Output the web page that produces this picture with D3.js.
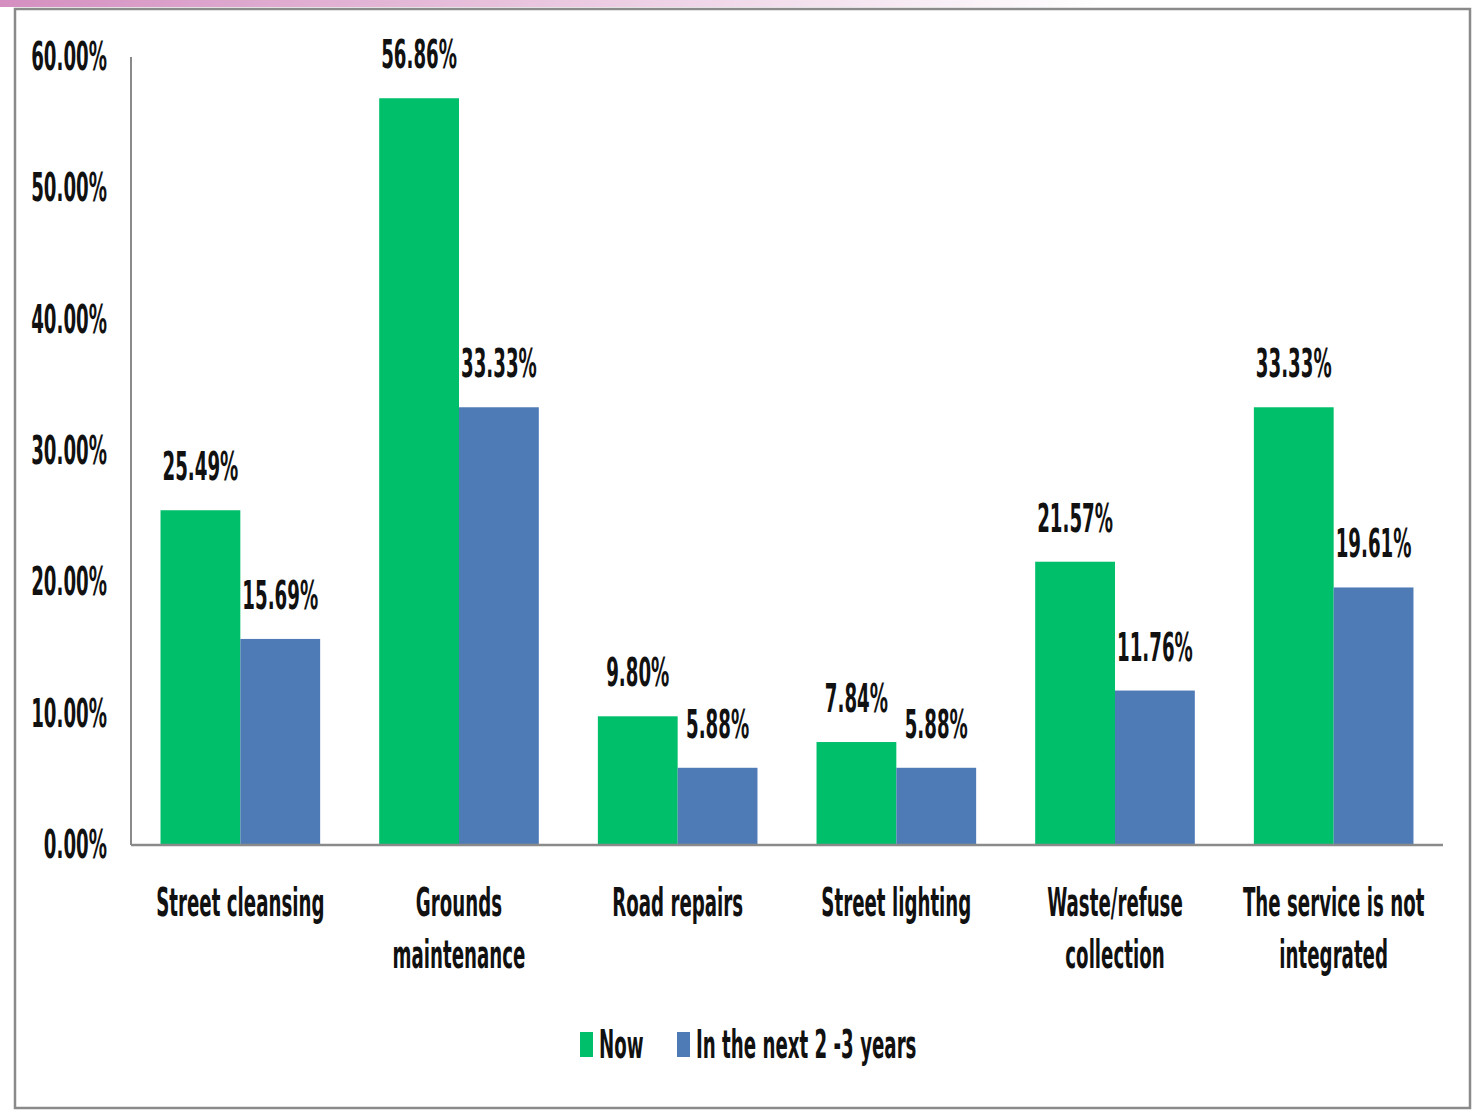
<!DOCTYPE html>
<html>
<head>
<meta charset="utf-8">
<script src="https://cdn.jsdelivr.net/npm/d3@7"></script>
<style>
  html, body { margin: 0; padding: 0; background: #fff; }
  svg { display: block; }
  text { font-family: "DejaVu Sans Condensed", "Liberation Sans Narrow", sans-serif; font-weight: bold; fill: #111; }
</style>
</head>
<body>
<svg id="chart" width="1473" height="1111"></svg>
<script>
// Survey results: share of respondents per service, now vs. in the next 2-3 years
const categories = [
  ["Street cleansing"],
  ["Grounds", "maintenance"],
  ["Road repairs"],
  ["Street lighting"],
  ["Waste/refuse", "collection"],
  ["The service is not", "integrated"]
];
const seriesNames = ["Now", "In the next 2 -3 years"];
const nowValues = [25.49, 56.86, 9.80, 7.84, 21.57, 33.33];
const nextValues = [15.69, 33.33, 5.88, 5.88, 11.76, 19.61];
const yTicks = [0, 10, 20, 30, 40, 50, 60];
const colors = ["#00bf6b", "#4e7bb5"];

const svg = d3.select("#chart");
const W = 1473, H = 1111;
const SX = 0.75, SY = 1.45; // narrow, tall lettering

// top accent band
const grad = svg.append("defs").append("linearGradient")
  .attr("id", "band").attr("x1", "0").attr("x2", "1");
grad.append("stop").attr("offset", "0").attr("stop-color", "#d48fc0");
grad.append("stop").attr("offset", "0.75").attr("stop-color", "#ffffff");
svg.append("rect").attr("x", 0).attr("y", 0).attr("width", W).attr("height", 7).attr("fill", "url(#band)");

// chart frame
svg.append("rect").attr("x", 15).attr("y", 9).attr("width", 1455).attr("height", 1099)
  .attr("fill", "#fff").attr("stroke", "#8a8a8a").attr("stroke-width", 2.5);

const m = { left: 131, right: 1443, top: 57, bottom: 845 };

const x0 = d3.scaleBand().domain(d3.range(categories.length))
  .range([m.left, m.right]).paddingInner(0.27).paddingOuter(0.135);
const x1 = d3.scaleBand().domain([0, 1]).range([0, x0.bandwidth()]);
const y = d3.scaleLinear().domain([0, 60]).range([m.bottom, m.top]);

function stretchedText(g, xPos, yPos, str, size, anchor) {
  return g.append("text")
    .attr("transform", `translate(${xPos},${yPos}) scale(${SX},${SY})`)
    .attr("text-anchor", anchor || "middle")
    .style("font-size", size + "px")
    .text(str);
}

// y tick labels
const yg = svg.append("g");
yTicks.forEach(t => stretchedText(yg, 107, y(t) + 13, t.toFixed(2) + "%", 27, "end"));

// bars
const data = categories.map((c, i) => ({ i, vals: [nowValues[i], nextValues[i]] }));
const groups = svg.append("g").selectAll("g").data(data).join("g")
  .attr("transform", d => `translate(${x0(d.i)},0)`);
groups.selectAll("rect").data(d => d.vals.map((v, k) => ({ v, k }))).join("rect")
  .attr("x", d => x1(d.k)).attr("width", x1.bandwidth())
  .attr("y", d => y(d.v)).attr("height", d => y(0) - y(d.v))
  .attr("fill", d => colors[d.k]);

// value labels
groups.each(function(d) {
  const g = d3.select(this);
  d.vals.forEach((v, k) => {
    stretchedText(g, x1(k) + x1.bandwidth() / 2, y(v) - 30, v.toFixed(2) + "%", 27);
  });
});

// axes lines
svg.append("line").attr("x1", m.left).attr("x2", m.left).attr("y1", m.top).attr("y2", m.bottom)
  .attr("stroke", "#8a8a8a").attr("stroke-width", 2);
svg.append("line").attr("x1", m.left).attr("x2", m.right).attr("y1", m.bottom).attr("y2", m.bottom)
  .attr("stroke", "#8a8a8a").attr("stroke-width", 2.5);

// category labels
const cg = svg.append("g");
categories.forEach((lines, i) => {
  const cx = x0(i) + x0.bandwidth() / 2;
  lines.forEach((ln, j) => stretchedText(cg, cx, 916 + j * 52, ln, 27));
});

// legend
const lg = svg.append("g");
const legendItems = [{ x: 580, k: 0 }, { x: 677, k: 1 }];
legendItems.forEach(it => {
  lg.append("rect").attr("x", it.x).attr("y", 1032).attr("width", 13).attr("height", 25)
    .attr("fill", colors[it.k]);
  stretchedText(lg, it.x + 19, 1058, seriesNames[it.k], 27, "start");
});
</script>
</body>
</html>
